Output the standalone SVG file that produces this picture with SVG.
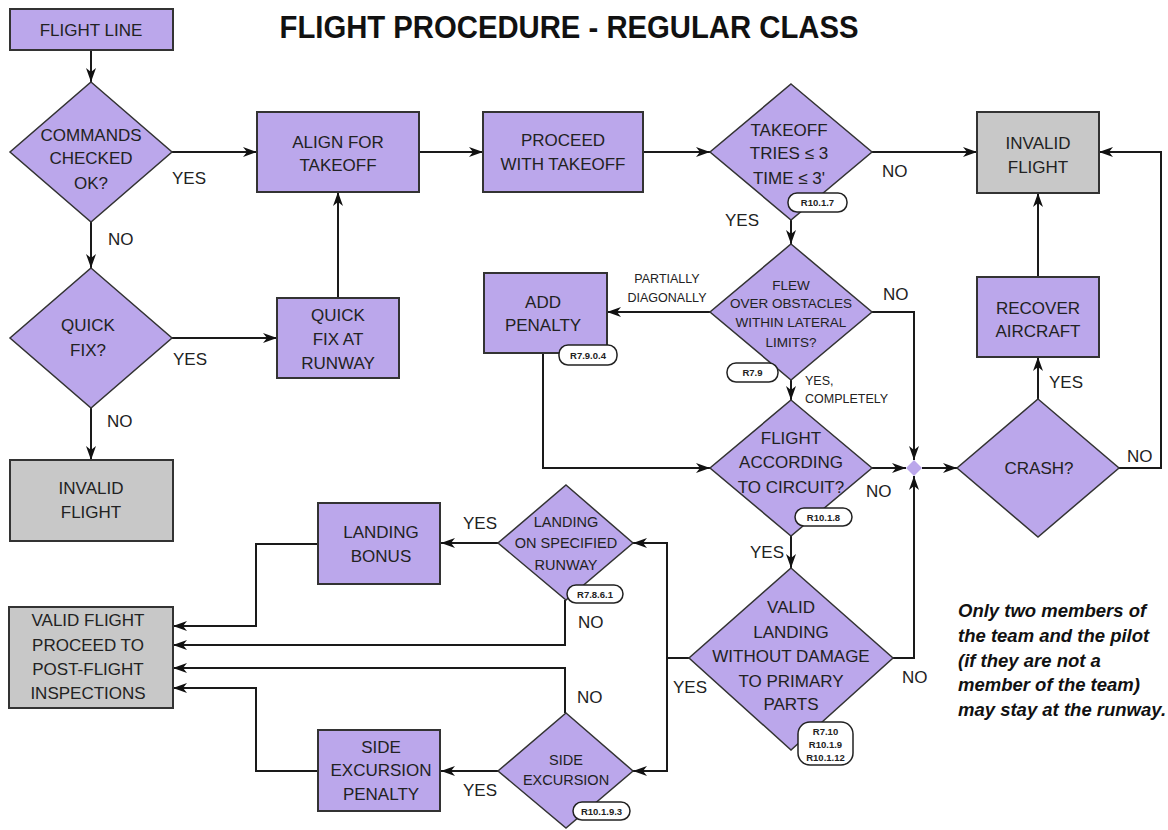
<svg xmlns="http://www.w3.org/2000/svg" width="1168" height="830" viewBox="0 0 1168 830">
<style>
.box{fill:#bba7eb;stroke:#333;stroke-width:2}
.term{fill:#c8c8c8;stroke:#333;stroke-width:2}
.dia{fill:#bba7eb;stroke:#333;stroke-width:1.5}
.t{font-family:"Liberation Sans",Arial,sans-serif;font-size:17px;fill:#222;text-anchor:middle}
.s{font-size:14.5px}
.xs{font-size:13.5px}
.lab{font-family:"Liberation Sans",Arial,sans-serif;font-size:17px;fill:#222}
.sm{font-size:12.5px}
.tag{fill:#fff;stroke:#222;stroke-width:1.5}
.tagt{font-family:"Liberation Sans",Arial,sans-serif;font-size:9.5px;font-weight:bold;fill:#222;text-anchor:middle}
.c{fill:none;stroke:#1a1a1a;stroke-width:2}
.note{font-family:"Liberation Sans",Arial,sans-serif;font-size:18.5px;font-weight:bold;font-style:italic;fill:#111}
</style>
<defs>
<marker id="ah" markerUnits="userSpaceOnUse" markerWidth="14" markerHeight="10" refX="14" refY="5" orient="auto">
<path d="M0,0 L14,5 L0,10 L4,5 z" fill="#111"/>
</marker>
</defs>
<rect width="1168" height="830" fill="#fff"/>
<text x="569" y="38" font-family="Liberation Sans,Arial,sans-serif" font-size="31" font-weight="bold" fill="#111" text-anchor="middle" textLength="579" lengthAdjust="spacingAndGlyphs">FLIGHT PROCEDURE - REGULAR CLASS</text>

<g id="connectors" class="c">
<path d="M91,50 V82" marker-end="url(#ah)"/>
<path d="M172,152 H257" marker-end="url(#ah)"/>
<path d="M91,222 V268" marker-end="url(#ah)"/>
<path d="M172,338 H277" marker-end="url(#ah)"/>
<path d="M338,298 V192" marker-end="url(#ah)"/>
<path d="M91,408 V460" marker-end="url(#ah)"/>
<path d="M419,152 H483" marker-end="url(#ah)"/>
<path d="M643,152 H710" marker-end="url(#ah)"/>
<path d="M872,152 H977" marker-end="url(#ah)"/>
<path d="M791,220 V244" marker-end="url(#ah)"/>
<path d="M710,312 H607" marker-end="url(#ah)"/>
<path d="M872,312 H914 V460" marker-end="url(#ah)"/>
<path d="M791,380 V400" marker-end="url(#ah)"/>
<path d="M543,353 V468 H710" marker-end="url(#ah)"/>
<path d="M872,468 H906" marker-end="url(#ah)"/>
<path d="M791,536 V568" marker-end="url(#ah)"/>
<path d="M893,658 H914 V476" marker-end="url(#ah)"/>
<path d="M922,468 H957" marker-end="url(#ah)"/>
<path d="M1038,399 V357" marker-end="url(#ah)"/>
<path d="M1038,277 V193" marker-end="url(#ah)"/>
<path d="M1119,468 H1161 V152 H1099" marker-end="url(#ah)"/>
<path d="M689,658 H667 V543 H633" marker-end="url(#ah)"/>
<path d="M667,658 V771 H633" marker-end="url(#ah)"/>
<path d="M498,543 H441" marker-end="url(#ah)"/>
<path d="M565,600 V645 H173" marker-end="url(#ah)"/>
<path d="M318,544 H256 V626 H173" marker-end="url(#ah)"/>
<path d="M565,713 V668 H173" marker-end="url(#ah)"/>
<path d="M498,771 H441" marker-end="url(#ah)"/>
<path d="M318,771 H256 V688 H173" marker-end="url(#ah)"/>
</g>

<g id="labels">
<text class="lab" x="172" y="184">YES</text>
<text class="lab" x="108" y="245">NO</text>
<text class="lab" x="173" y="365">YES</text>
<text class="lab" x="107" y="427">NO</text>
<text class="lab" x="725" y="226">YES</text>
<text class="lab" x="882" y="177">NO</text>
<text class="lab" x="883" y="300">NO</text>
<text class="lab sm" x="805" y="385">YES,</text>
<text class="lab sm" x="805" y="403">COMPLETELY</text>
<text class="t sm" x="667" y="283">PARTIALLY</text>
<text class="t sm" x="667" y="302">DIAGONALLY</text>
<text class="lab" x="866" y="497">NO</text>
<text class="lab" x="750" y="558">YES</text>
<text class="lab" x="902" y="683">NO</text>
<text class="lab" x="673" y="693">YES</text>
<text class="lab" x="1049" y="388">YES</text>
<text class="lab" x="1127" y="462">NO</text>
<text class="lab" x="463" y="529">YES</text>
<text class="lab" x="578" y="628">NO</text>
<text class="lab" x="577" y="703">NO</text>
<text class="lab" x="463" y="796">YES</text>
</g>

<g id="flight-line"><rect class="box" x="10" y="9" width="163" height="41"/><text class="t" x="91" y="36">FLIGHT LINE</text></g>

<g id="commands-checked"><polygon class="dia" points="91,82 172,152 91,222 10,152"/>
<text class="t" x="91" y="141">COMMANDS</text><text class="t" x="91" y="164">CHECKED</text><text class="t" x="91" y="189">OK?</text></g>

<g id="quick-fix"><polygon class="dia" points="91,268 172,338 91,408 10,338"/>
<text class="t" x="88" y="331">QUICK</text><text class="t" x="88" y="356">FIX?</text></g>

<g id="invalid-flight-left"><rect class="term" x="10" y="460" width="163" height="81"/>
<text class="t" x="91" y="494">INVALID</text><text class="t" x="91" y="518">FLIGHT</text></g>

<g id="align-takeoff"><rect class="box" x="257" y="112" width="162" height="80"/>
<text class="t" x="338" y="148">ALIGN FOR</text><text class="t" x="338" y="171">TAKEOFF</text></g>

<g id="quick-fix-runway"><rect class="box" x="277" y="298" width="122" height="80"/>
<text class="t" x="338" y="321">QUICK</text><text class="t" x="338" y="345">FIX AT</text><text class="t" x="338" y="369">RUNWAY</text></g>

<g id="proceed-takeoff"><rect class="box" x="483" y="112" width="160" height="80"/>
<text class="t" x="563" y="146">PROCEED</text><text class="t" x="563" y="170">WITH TAKEOFF</text></g>

<g id="takeoff-tries"><polygon class="dia" points="791,84 872,152 791,220 710,152"/>
<text class="t" x="789" y="136" font-size="18">TAKEOFF</text><text class="t" x="789" y="159" font-size="18">TRIES ≤ 3</text><text class="t" x="789" y="184" font-size="18">TIME ≤ 3'</text>
<rect class="tag" x="788" y="193" width="59" height="19" rx="9"/><text class="tagt" x="817.5" y="206">R10.1.7</text></g>

<g id="invalid-flight-right"><rect class="term" x="977" y="112" width="122" height="81"/>
<text class="t" x="1038" y="149">INVALID</text><text class="t" x="1038" y="173">FLIGHT</text></g>

<g id="flew-over"><polygon class="dia" points="791,244 872,312 791,380 710,312"/>
<text class="t xs" x="791" y="290">FLEW</text><text class="t xs" x="791" y="308">OVER OBSTACLES</text><text class="t xs" x="791" y="327">WITHIN LATERAL</text><text class="t xs" x="791" y="347">LIMITS?</text>
<rect class="tag" x="727" y="363" width="51" height="19" rx="9"/><text class="tagt" x="752.5" y="376">R7.9</text></g>

<g id="add-penalty"><rect class="box" x="484" y="273" width="123" height="80"/>
<text class="t" x="543" y="308">ADD</text><text class="t" x="543" y="331">PENALTY</text>
<rect class="tag" x="559" y="345" width="58" height="20" rx="9"/><text class="tagt" x="588" y="358.5">R7.9.0.4</text></g>

<g id="flight-circuit"><polygon class="dia" points="791,400 872,468 791,536 710,468"/>
<text class="t" x="791" y="444" font-size="18">FLIGHT</text><text class="t" x="791" y="468" font-size="18">ACCORDING</text><text class="t" x="791" y="493" font-size="18">TO CIRCUIT?</text>
<rect class="tag" x="795" y="508" width="57" height="18" rx="9"/><text class="tagt" x="823.5" y="520.5">R10.1.8</text></g>

<g id="junction"><polygon points="914,460 922,468 914,476 906,468" fill="#bba7eb"/></g>

<g id="crash"><polygon class="dia" points="1038,399 1119,468 1038,537 957,468"/>
<text class="t" x="1039" y="474">CRASH?</text></g>

<g id="recover-aircraft"><rect class="box" x="977" y="277" width="122" height="80"/>
<text class="t" x="1038" y="314">RECOVER</text><text class="t" x="1038" y="337">AIRCRAFT</text></g>

<g id="valid-landing"><polygon class="dia" points="791,568 893,658 791,750 689,658"/>
<text class="t" x="791" y="613" font-size="18">VALID</text><text class="t" x="791" y="638" font-size="18">LANDING</text><text class="t" x="791" y="662" font-size="18">WITHOUT DAMAGE</text><text class="t" x="791" y="687" font-size="18">TO PRIMARY</text><text class="t" x="791" y="710" font-size="18">PARTS</text>
<rect class="tag" x="798" y="722" width="55" height="43" rx="12"/><text class="tagt" x="825.5" y="735">R7.10</text><text class="tagt" x="825.5" y="748">R10.1.9</text><text class="tagt" x="825.5" y="761">R10.1.12</text></g>

<g id="landing-runway"><polygon class="dia" points="566,485 633,543 566,600 498,543"/>
<text class="t s" x="566" y="527">LANDING</text><text class="t s" x="566" y="548">ON SPECIFIED</text><text class="t s" x="566" y="570">RUNWAY</text>
<rect class="tag" x="567" y="585" width="56" height="18" rx="9"/><text class="tagt" x="595" y="597.5">R7.8.6.1</text></g>

<g id="landing-bonus"><rect class="box" x="318" y="503" width="122" height="81"/>
<text class="t" x="381" y="538">LANDING</text><text class="t" x="381" y="562">BONUS</text></g>

<g id="side-excursion"><polygon class="dia" points="566,713 633,771 566,828 498,771"/>
<text class="t s" x="566" y="765">SIDE</text><text class="t s" x="566" y="785">EXCURSION</text>
<rect class="tag" x="573" y="802" width="57" height="18" rx="9"/><text class="tagt" x="601.5" y="814.5">R10.1.9.3</text></g>

<g id="side-excursion-penalty"><rect class="box" x="318" y="730" width="122" height="81"/>
<text class="t" x="381" y="753">SIDE</text><text class="t" x="381" y="776">EXCURSION</text><text class="t" x="381" y="800">PENALTY</text></g>

<g id="valid-flight"><rect class="term" x="9" y="607" width="164" height="101"/>
<text class="t" x="88" y="626">VALID FLIGHT</text><text class="t" x="88" y="651">PROCEED TO</text><text class="t" x="88" y="675">POST-FLIGHT</text><text class="t" x="88" y="699">INSPECTIONS</text></g>

<g id="note">
<text class="note" x="958" y="617">Only two members of</text>
<text class="note" x="958" y="642">the team and the pilot</text>
<text class="note" x="958" y="667">(if they are not a</text>
<text class="note" x="958" y="691">member of the team)</text>
<text class="note" x="958" y="716">may stay at the runway.</text>
</g>
</svg>
